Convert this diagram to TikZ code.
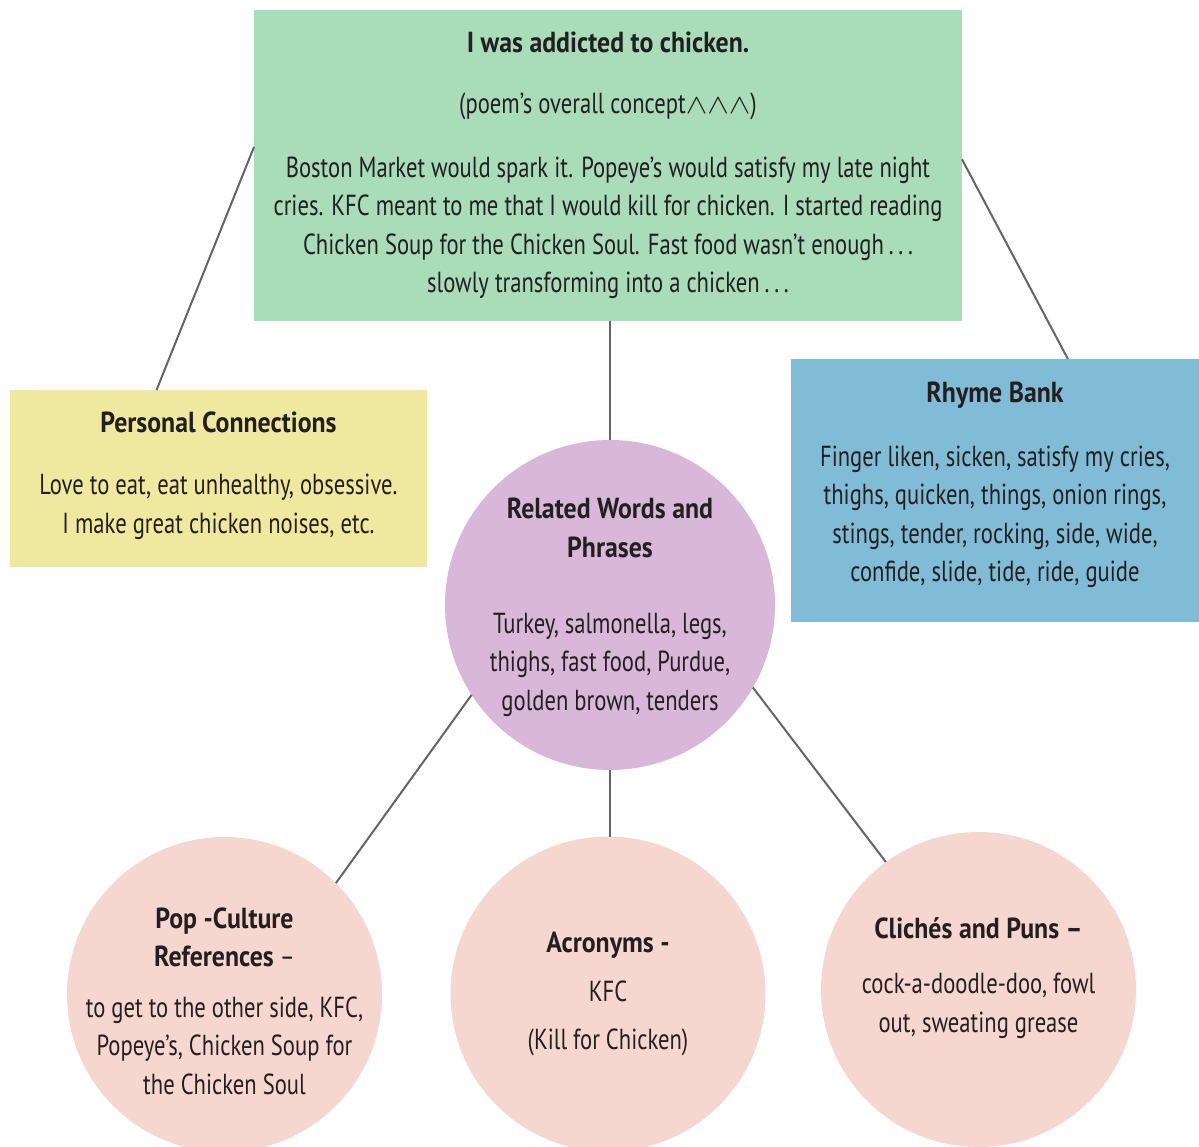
\documentclass[tikz,border=0pt]{standalone}
\usepackage{fontspec}
\setmainfont[FakeStretch=0.78, BoldFeatures={FakeStretch=0.89}]{PT Sans}
\usetikzlibrary{positioning, calc}
\definecolor{conceptfill}{RGB}{169, 220, 185}
\definecolor{personalfill}{RGB}{239, 233, 160}
\definecolor{rhymefill}{RGB}{129, 188, 214}
\definecolor{relatedfill}{RGB}{216, 183, 216}
\definecolor{bubblefill}{RGB}{246, 215, 207}
\definecolor{inkdark}{RGB}{35, 31, 32}
\definecolor{linkgray}{RGB}{100, 100, 100}
\newcommand{\bigcaret}{\scalebox{1.3}[1.1]{$\wedge$}}

\begin{document}
\begin{tikzpicture}[
    x=1pt, y=-1pt,
    font=\fontsize{29pt}{38.5pt}\selectfont,
    % shapes and texts
    card/.style={rectangle, inner sep=0pt, outer sep=0pt},
    bubble/.style={circle, inner sep=0pt, outer sep=0pt, minimum size=315pt, fill=bubblefill},
    words/.style={align=center, text=inkdark, inner sep=0pt},
    link/.style={draw=linkgray, line width=2pt}
]

% page frame (circles at the bottom are cut off)
\clip (0,0) rectangle (1199,1146);

% ==========================================
% 1. boxes and circles
% ==========================================
\node[card, fill=conceptfill, minimum width=708pt, minimum height=311pt] (concept) at (608,165.5) {};
\node[card, fill=personalfill, minimum width=417pt, minimum height=177pt] (personal) at (218.5,478.5) {};
\node[card, fill=rhymefill, minimum width=408pt, minimum height=263pt] (rhyme) at (995,490.5) {};

\node[bubble, fill=relatedfill, minimum size=330pt] (related) at (610,605) {};
\node[bubble] (popcult) at (224.5,994.5) {};
\node[bubble] (acronyms) at (608,994) {};
\node[bubble] (cliches) at (978.5,989.5) {};

% ==========================================
% 2. texts
% ==========================================
\node[words] (concept-txt) at (concept) {\textbf{I was addicted to chicken.}\\[22.5pt]
    (poem’s overall concept\bigcaret\bigcaret\bigcaret)\\[25.5pt]
    Boston Market would spark it. Popeye’s would satisfy my late night\\
    cries. KFC meant to me that I would kill for chicken. I started reading\\
    Chicken Soup for the Chicken Soul. Fast food wasn’t enough\,.\,.\,.\\
    slowly transforming into a chicken\,.\,.\,.};

\node[words, yshift=3pt] (personal-txt) at (personal) {\textbf{Personal Connections}\\[23.5pt]
    Love to eat, eat unhealthy, obsessive.\\
    I make great chicken noises, etc.};

\node[words, yshift=5.5pt] (rhyme-txt) at (rhyme) {\textbf{Rhyme Bank}\\[25.5pt]
    Finger liken, sicken, satisfy my cries,\\
    thighs, quicken, things, onion rings,\\
    stings, tender, rocking, side, wide,\\
    confide, slide, tide, ride, guide};

\node[words, yshift=-2.5pt] (related-txt) at (related) {\textbf{Related Words and}\\
    \textbf{Phrases}\\[37.5pt]
    Turkey, salmonella, legs,\\
    thighs, fast food, Purdue,\\
    golden brown, tenders};

\node[words, yshift=-6.5pt] (popcult-txt) at (popcult) {\textbf{Pop -Culture}\\
    \textbf{References} –\\[12pt]
    to get to the other side, KFC,\\
    Popeye’s, Chicken Soup for\\
    the Chicken Soul};

\node[words] (acronyms-txt) at (acronyms) {\textbf{Acronyms -}\\[10.5pt]
    KFC\\[9.5pt]
    (Kill for Chicken)};

\node[words, yshift=11.5pt] (cliches-txt) at (cliches) {\textbf{Clichés and Puns –}\\[16.5pt]
    cock-a-doodle-doo, fowl\\
    out, sweating grease};

% ==========================================
% 3. connectors
% ==========================================
\draw[link] (concept.177) -- (personal.125.7);
\draw[link] (concept.1) -- (rhyme.61.6);
\draw[link] (related.north) -- (related.north |- concept.south);

\draw[link] (related.213.6) -- (popcult.45);
\draw[link] (related.south) -- (related.south |- acronyms.north);
\draw[link] (related.330) -- (cliches.126.4);

\end{tikzpicture}
\end{document}
